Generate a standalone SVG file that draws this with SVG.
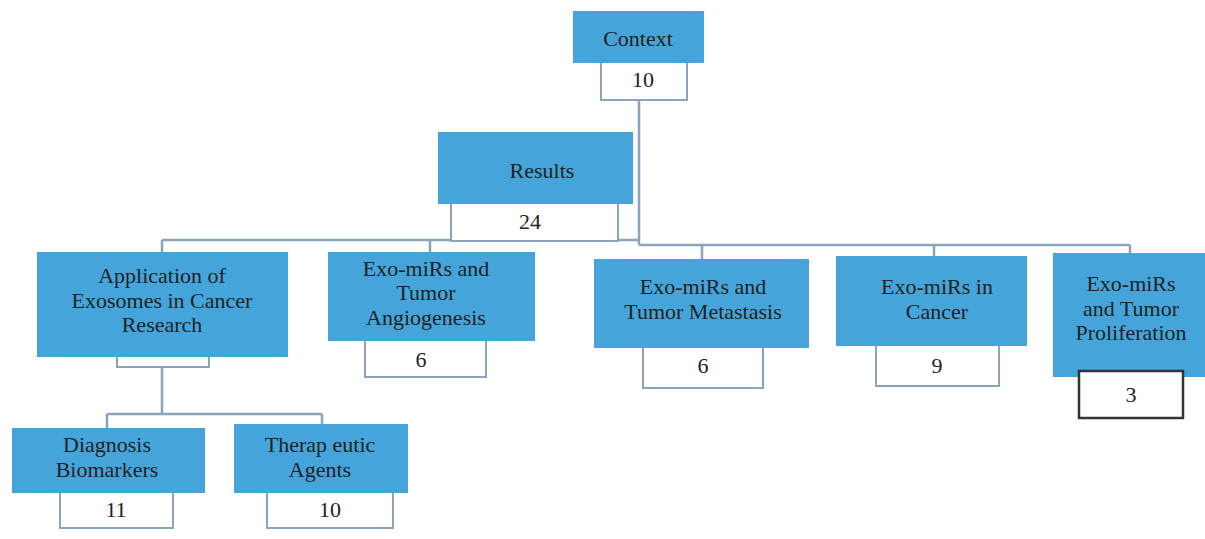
<svg xmlns="http://www.w3.org/2000/svg" width="1205" height="539" viewBox="0 0 1205 539">
<style>
.b{fill:#45a5da;}
.n{fill:#ffffff;stroke:#8aa4bd;stroke-width:2;}
.t{font-family:"Liberation Serif","Times New Roman",serif;font-size:22px;fill:#222;text-anchor:middle;}
.c{fill:none;stroke:#8aa4bd;stroke-width:2.5;}
</style>
<rect width="1205" height="539" fill="#fff"/>
<g id="connectors">
<path class="c" d="M639,100 V245 M162,240 H639 M162,240 V252 M430,240 V252 M639,245 H1130 M702,245 V259 M934,245 V256 M1130,245 V253"/>
<path class="c" d="M162,367 V414 M107,414 H322 M107,414 V428 M322,414 V424"/>
</g>
<g id="context">
<rect class="n" x="601" y="60" width="86" height="40"/>
<rect class="b" x="573" y="11" width="131" height="52"/>
<text class="t" x="638" y="46">Context</text>
<text class="t" x="643" y="87">10</text>
</g>
<g id="results">
<rect class="n" x="451" y="200" width="167" height="41"/>
<rect class="b" x="438" y="132" width="195" height="72"/>
<text class="t" x="542" y="178">Results</text>
<text class="t" x="530" y="229">24</text>
</g>
<g id="application">
<rect class="n" x="117" y="354" width="92" height="13"/>
<rect class="b" x="37" y="252" width="251" height="105"/>
<text class="t" x="162" y="283">Application of</text>
<text class="t" x="162" y="308">Exosomes in Cancer</text>
<text class="t" x="162" y="332">Research</text>
</g>
<g id="angiogenesis">
<rect class="n" x="365" y="338" width="121" height="39"/>
<rect class="b" x="328" y="252" width="207" height="89"/>
<text class="t" x="426" y="276">Exo-miRs and</text>
<text class="t" x="426" y="300">Tumor</text>
<text class="t" x="426" y="325">Angiogenesis</text>
<text class="t" x="421" y="367">6</text>
</g>
<g id="metastasis">
<rect class="n" x="643" y="345" width="120" height="43"/>
<rect class="b" x="594" y="259" width="215" height="89"/>
<text class="t" x="703" y="294">Exo-miRs and</text>
<text class="t" x="703" y="319">Tumor Metastasis</text>
<text class="t" x="703" y="373">6</text>
</g>
<g id="cancer">
<rect class="n" x="876" y="343" width="123" height="43"/>
<rect class="b" x="836" y="256" width="191" height="90"/>
<text class="t" x="937" y="294">Exo-miRs in</text>
<text class="t" x="937" y="319">Cancer</text>
<text class="t" x="937" y="373">9</text>
</g>
<g id="proliferation">
<rect class="b" x="1053" y="253" width="152" height="124"/>
<text class="t" x="1131" y="291">Exo-miRs</text>
<text class="t" x="1131" y="316">and Tumor</text>
<text class="t" x="1131" y="340">Proliferation</text>
<rect x="1079" y="371" width="104" height="47" fill="#fff" stroke="#333" stroke-width="2.5"/>
<text class="t" x="1131" y="402">3</text>
</g>
<g id="diagnosis">
<rect class="n" x="60" y="490" width="113" height="38"/>
<rect class="b" x="12" y="428" width="193" height="65"/>
<text class="t" x="107" y="452">Diagnosis</text>
<text class="t" x="107" y="477">Biomarkers</text>
<text class="t" x="116" y="517">11</text>
</g>
<g id="therapeutic">
<rect class="n" x="267" y="490" width="126" height="38"/>
<rect class="b" x="234" y="424" width="174" height="69"/>
<text class="t" x="320" y="452">Therap eutic</text>
<text class="t" x="320" y="477">Agents</text>
<text class="t" x="330" y="517">10</text>
</g>
</svg>
